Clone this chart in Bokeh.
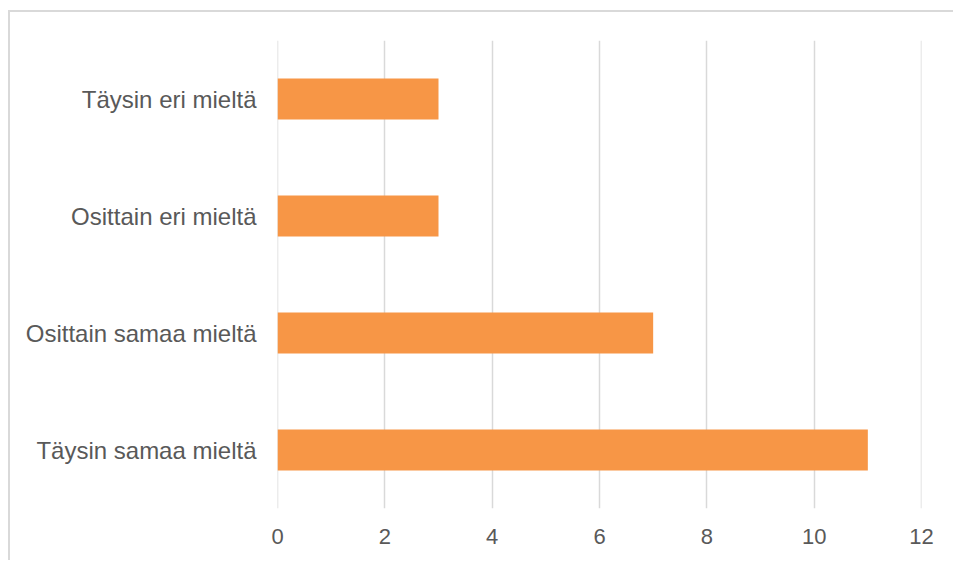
from bokeh.plotting import figure
from bokeh.models import Range1d, FactorRange, FixedTicker, Span
from bokeh.embed import file_html
from bokeh.resources import INLINE

# Survey answers (bottom to top) and their counts
categories = ["Täysin samaa mieltä", "Osittain samaa mieltä", "Osittain eri mieltä", "Täysin eri mieltä"]
counts = [11, 7, 3, 3]
x_ticks = [0, 2, 4, 6, 8, 10, 12]

BAR_COLOR = "#F79646"
GRID_COLOR = "#D9D9D9"
TEXT_COLOR = "#595959"
FONT = "Liberation Sans"

p = figure(
    width=945, height=550,
    y_range=FactorRange(factors=categories, range_padding=0),
    x_range=Range1d(0, 12),
    output_backend="svg", toolbar_location=None,
    min_border_left=267, min_border_right=34,
    min_border_top=28, min_border_bottom=54,
)
# light chart frame on the top and left edges
p.styles = {
    "margin-left": "8px", "margin-top": "10px",
    "border-top": "2px solid #D9D9D9", "border-left": "2px solid #D9D9D9",
}

p.hbar(y=categories, right=counts, left=0, height=0.35,
       fill_color=BAR_COLOR, line_color=None)

p.outline_line_color = None
p.ygrid.grid_line_color = None
p.xgrid.grid_line_color = GRID_COLOR
p.xgrid.grid_line_width = 1.5
p.xaxis.ticker = FixedTicker(ticks=x_ticks)

# gridlines at the range ends
for x in (x_ticks[0], x_ticks[-1]):
    p.add_layout(Span(location=x, dimension="height", line_color=GRID_COLOR,
                      line_width=1.5, level="underlay"))

for ax in (p.xaxis, p.yaxis):
    ax.axis_line_color = None
    ax.major_tick_line_color = None
    ax.minor_tick_line_color = None
    ax.major_label_text_color = TEXT_COLOR
    ax.major_label_text_font = FONT

p.xaxis.major_label_text_font_size = "22px"
p.yaxis.major_label_text_font_size = "24px"
p.xaxis.major_label_standoff = 14
p.yaxis.major_label_standoff = 15

open("out.html", "w").write(file_html(p, INLINE))
